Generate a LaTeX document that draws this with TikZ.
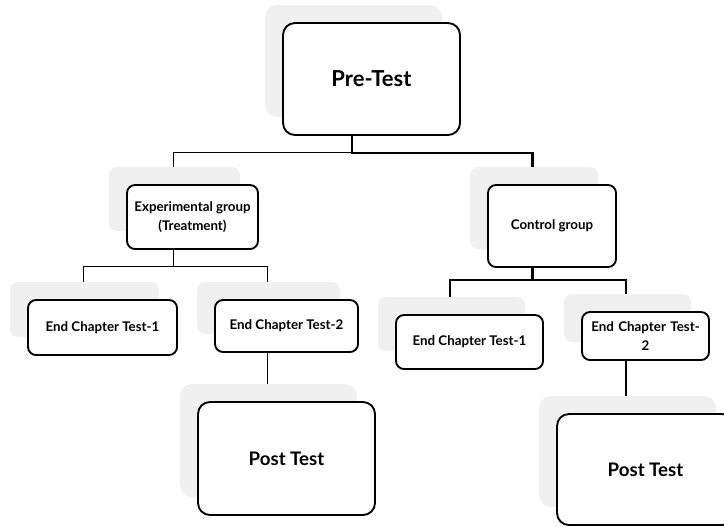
\documentclass[tikz,border=0pt]{standalone}
\usepackage{fontspec}
\setmainfont{Lato}
\usetikzlibrary{shadows,backgrounds}

\tikzset{
  box/.style={draw, line width=1.4pt, rounded corners=6pt, fill=white,
    align=center, font=\bfseries\fontsize{10}{14.5}\selectfont, inner sep=2pt,
    general shadow={fill=black!6, shadow xshift=-13.5pt, shadow yshift=13.5pt}},
  bigbox/.style={box, rounded corners=9pt},
  thinline/.style={line width=0.7pt},
  thickline/.style={line width=1.6pt}
}

\begin{document}
\begin{tikzpicture}[x=0.75pt,y=-0.75pt]
  \useasboundingbox (0,0) rectangle (724,526);
  \begin{scope}
    \node[bigbox, minimum width=132.75pt, minimum height=84pt,
      font=\bfseries\fontsize{16.5}{20}\selectfont] (pre) at (371.5,79) {Pre-Test};
    \node[box, minimum width=98.25pt, minimum height=48pt] (exp) at (192.5,217)
      {Experimental group\\(Treatment)};
    \node[box, minimum width=96pt, minimum height=61.5pt] (ctl) at (552,226) {Control group};
    \node[box, minimum width=111.75pt, minimum height=41.25pt] (ectA) at (102.5,327.5)
      {End Chapter Test-1};
    \node[box, minimum width=107.25pt, minimum height=39pt] (ectB) at (286.5,326)
      {End Chapter Test-2};
    \node[box, minimum width=110.25pt, minimum height=40.5pt] (ectC) at (469.5,342)
      {End Chapter Test-1};
    \node[box, minimum width=95.25pt, minimum height=36pt, text width=90pt] (ectD) at (645.5,336)
      {End Chapter Test-\\2};
    \node[bigbox, minimum width=132.75pt, minimum height=84.75pt,
      font=\bfseries\fontsize{14}{17}\selectfont] (postA) at (286.5,458.5) {Post Test};
    \node[bigbox, minimum width=132.75pt, minimum height=83.25pt,
      font=\bfseries\fontsize{14}{17}\selectfont] (postB) at (645.5,469.5) {Post Test};
  \end{scope}

  % junctions
  \coordinate (jPre) at ([xshift=-14.6pt,yshift=-12.75pt]pre.south);
  \coordinate (jExp) at ([xshift=-14.6pt,yshift=-12.75pt]exp.south);
  \coordinate (jCtl) at ([xshift=-14.6pt,yshift=-9pt]ctl.south);

  \begin{scope}[on background layer]
    \draw[thinline] ([xshift=-14.6pt]exp.north) |- (jPre);
    \draw[thickline] ([xshift=-14.6pt]pre.south) -- (jPre) -| ([xshift=-14.6pt]ctl.north);
    \draw[thinline] ([xshift=-14.6pt]exp.south) -- (jExp);
    \draw[thinline] ([xshift=-14.6pt]ectA.north) |- (jExp) -| ([xshift=-14.6pt]ectB.north);
    \draw[thinline] ([xshift=-14.6pt]ectB.south) -- ([xshift=-14.6pt]postA.north);
    \draw[thickline] ([xshift=-14.6pt]ctl.south) -- (jCtl);
    \draw[thickline] ([xshift=-14.6pt]ectC.north) |- (jCtl) -| ([xshift=-14.6pt]ectD.north);
    \draw[thickline] ([xshift=-14.6pt]ectD.south) -- ([xshift=-14.6pt]postB.north);
  \end{scope}
\end{tikzpicture}
\end{document}
